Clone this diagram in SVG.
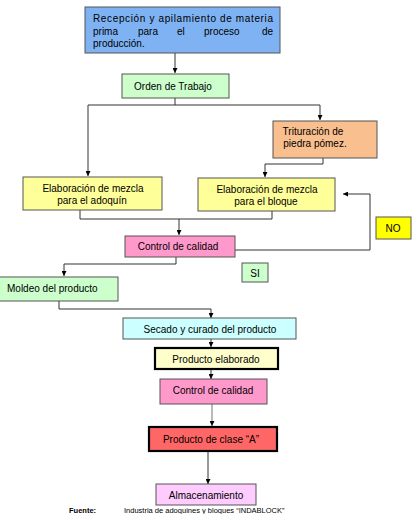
<svg xmlns="http://www.w3.org/2000/svg" width="414" height="514" viewBox="0 0 414 514">
<defs>
<marker id="ah" viewBox="0 0 8 8" refX="8" refY="4" markerWidth="5" markerHeight="5" orient="auto" markerUnits="userSpaceOnUse">
<path d="M0,0 L8,4 L0,8 z" fill="#000"/>
</marker>
</defs>
<style>
text{font-family:"Liberation Sans",Arial,sans-serif;font-size:10px;fill:#000}
.c{text-anchor:middle}
.b{stroke:#555;stroke-width:1}
.thick{stroke:#000;stroke-width:2.2}
.ln{fill:none;stroke:#333;stroke-width:1}
.ar{fill:none;stroke:#333;stroke-width:1;marker-end:url(#ah)}
</style>
<rect width="414" height="514" fill="#fff"/>
<g id="connectors">
<path class="ar" d="M175,53 V73"/>
<path class="ln" d="M175,98 V105 M88,105 H320"/>
<path class="ar" d="M88,105 V176"/>
<path class="ar" d="M320,105 V120"/>
<path class="ar" d="M323,158 V164 H265 V177"/>
<path class="ln" d="M80,210 V219 H272 V211"/>
<path class="ar" d="M179,219 V235"/>
<path class="ar" d="M235,250 H370 V194 H343"/>
<path class="ar" d="M176,257 V264 H64 V276"/>
<path class="ar" d="M59,301 V309 H211 V318"/>
<path class="ar" d="M211,339 V347"/>
<path class="ar" d="M211,369 V379"/>
<path class="ar" d="M212,404 V426" style="stroke:#777"/>
<path class="ar" d="M208,451 V484"/>
</g>
<g id="recepcion">
<rect class="b" x="85" y="7" width="195" height="46" fill="#7eb2f2"/>
<text x="93" y="22" textLength="180" lengthAdjust="spacing">Recepción y apilamiento de materia</text>
<text x="93" y="35">prima</text>
<text x="138" y="35">para</text>
<text x="177" y="35">el</text>
<text x="204" y="35">proceso</text>
<text x="273" y="35" text-anchor="end">de</text>
<text x="93" y="47">producción.</text>
</g>
<g id="orden">
<rect class="b" x="122" y="74" width="107" height="24" fill="#ccffcc"/>
<text x="173" y="90" class="c">Orden de Trabajo</text>
</g>
<g id="trituracion">
<rect class="b" x="273" y="121" width="104" height="37" fill="#f9bf8f"/>
<text x="313" y="135" class="c">Trituración de</text>
<text x="315" y="147" class="c">piedra pómez.</text>
</g>
<g id="mezcla-adoquin">
<rect class="b" x="23" y="177" width="139" height="33" fill="#ffff99"/>
<text x="93" y="192" class="c">Elaboración de mezcla</text>
<text x="92" y="204" class="c">para el adoquín</text>
</g>
<g id="mezcla-bloque">
<rect class="b" x="198" y="178" width="137" height="33" fill="#ffff99"/>
<text x="267" y="193" class="c">Elaboración de mezcla</text>
<text x="266" y="205" class="c">para el bloque</text>
</g>
<g id="no">
<rect class="b" x="376" y="217" width="35" height="22" fill="#ffff00"/>
<text x="393" y="232" class="c">NO</text>
</g>
<g id="control1">
<rect class="b" x="125" y="236" width="110" height="21" fill="#ff99cc"/>
<text x="178" y="250" class="c">Control de calidad</text>
</g>
<g id="si">
<rect class="b" x="242" y="263" width="26" height="19" fill="#ccffcc"/>
<text x="255" y="277" class="c">SI</text>
</g>
<g id="moldeo">
<rect class="b" x="-1" y="277" width="119" height="24" fill="#ccffcc"/>
<text x="7" y="292">Moldeo del producto</text>
</g>
<g id="secado">
<rect class="b" x="123" y="318" width="173" height="21" fill="#ccffff"/>
<text x="210" y="333" class="c">Secado y curado del producto</text>
</g>
<g id="elaborado">
<rect class="thick" x="155" y="348" width="123" height="21" fill="#ffffcc"/>
<text x="216" y="363" class="c">Producto elaborado</text>
</g>
<g id="control2">
<rect class="b" x="160" y="379" width="107" height="25" fill="#ff99cc"/>
<text x="213" y="394" class="c">Control de calidad</text>
</g>
<g id="clase-a">
<rect class="thick" x="149" y="427" width="128" height="24" fill="#ff6666"/>
<text x="211" y="443" class="c">Producto de clase “A”</text>
</g>
<g id="almacenamiento">
<rect class="b" x="156" y="484" width="100" height="21" fill="#ffccff"/>
<text x="206" y="499" class="c">Almacenamiento</text>
</g>
<g id="fuente">
<text x="69" y="512.5" style="font-weight:bold;font-size:7.5px">Fuente:</text>
<text x="124" y="512.5" style="font-size:7.5px">Industria de adoquines y bloques “INDABLOCK”</text>
</g>
</svg>
